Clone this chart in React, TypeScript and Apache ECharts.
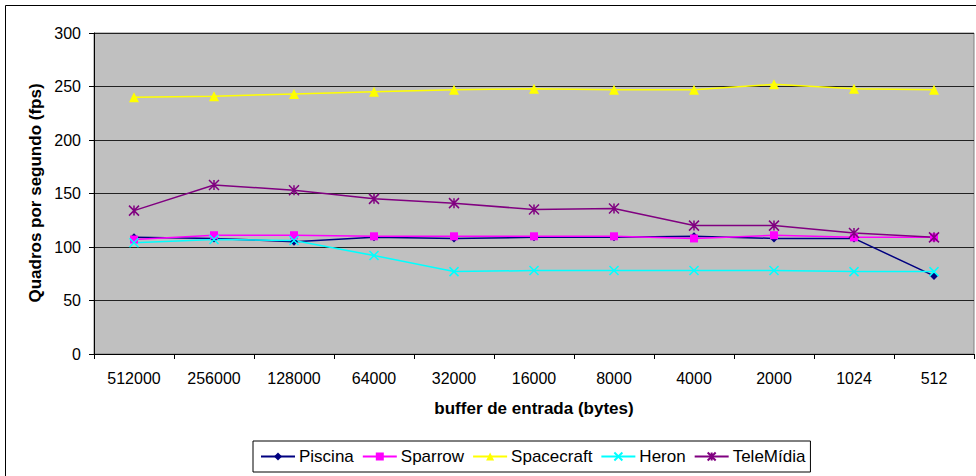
import React, { useEffect, useRef } from "react";
import * as echarts from "echarts";

const categories = ["512000", "256000", "128000", "64000", "32000", "16000", "8000", "4000", "2000", "1024", "512"];
const piscina = [109, 108, 105, 109, 108, 109, 109, 110, 108, 108, 73];
const sparrow = [107, 111, 111, 110, 110, 110, 110, 108, 111, 109, 109];
const spacecraft = [240, 241, 243, 245, 247, 248, 247, 247, 252, 248, 247];
const heron = [104, 107, 106, 92, 77, 78, 78, 78, 78, 77, 77];
const telemidia = [134, 158, 153, 145, 141, 135, 136, 120, 120, 113, 109];
const yTicks = { min: 0, max: 300, interval: 50 };

const FONT = "'Liberation Sans', Arial, sans-serif";

export default function App() {
  const ref = useRef<HTMLDivElement>(null);
  useEffect(() => {
    document.body.style.margin = "0";
    const chart = echarts.init(ref.current!, null, { renderer: "svg" });
    const mk = (name: string, data: number[], color: string, symbol: string, size: number, stroke = false) => ({
      name,
      type: "line",
      data,
      symbol,
      symbolSize: size,
      showAllSymbol: true,
      lineStyle: { color, width: 1.5 },
      itemStyle: stroke
        ? { color, borderColor: color, borderWidth: 1.5 }
        : { color, borderWidth: 0 },
      emphasis: { disabled: true },
      z: 3,
    });
    chart.setOption({
      animation: false,
      textStyle: { fontFamily: FONT },
      grid: {
        left: 94,
        top: 33,
        width: 880,
        height: 321,
        show: true,
        backgroundColor: "#C0C0C0",
        borderColor: "#808080",
        borderWidth: 1,
      },
      xAxis: {
        type: "category",
        data: categories,
        boundaryGap: true,
        axisLine: { lineStyle: { color: "#000", width: 1 } },
        axisTick: { show: true, interval: 0, length: 5, lineStyle: { color: "#000" } },
        axisLabel: { interval: 0, margin: 16, color: "#000", fontSize: 16, fontFamily: FONT },
        splitLine: { show: false },
      },
      yAxis: {
        type: "value",
        min: yTicks.min,
        max: yTicks.max,
        interval: yTicks.interval,
        axisLine: { show: true, lineStyle: { color: "#000", width: 1 } },
        axisTick: { show: true, length: 5, lineStyle: { color: "#000" } },
        axisLabel: { margin: 13, color: "#000", fontSize: 16, fontFamily: FONT },
        splitLine: { show: true, lineStyle: { color: "#222", width: 1 } },
      },
      legend: {
        left: 253,
        top: 441,
        orient: "horizontal",
        padding: [7, 5, 7, 7],
        itemGap: 8,
        itemWidth: 34,
        itemHeight: 10,
        borderColor: "#000",
        borderWidth: 1,
        backgroundColor: "#fff",
        textStyle: { color: "#000", fontSize: 17, fontFamily: FONT, padding: [0, 0, 0, -1] },
        data: ["Piscina", "Sparrow", "Spacecraft", "Heron", "TeleMídia"],
      },
      graphic: [
        {
          type: "rect",
          shape: { x: 5.5, y: 5.5, width: 1000, height: 500 },
          style: { fill: "none", stroke: "#000", lineWidth: 1 },
          silent: true,
          z: -10,
        },
        {
          type: "text",
          x: 35,
          y: 193,
          rotation: Math.PI / 2,
          style: {
            text: "Quadros por segundo (fps)",
            font: `bold 17px ${FONT}`,
            fill: "#000",
            align: "center",
            verticalAlign: "middle",
          },
        },
        {
          type: "text",
          x: 534,
          y: 408,
          style: {
            text: "buffer de entrada (bytes)",
            font: `bold 17px ${FONT}`,
            fill: "#000",
            align: "center",
            verticalAlign: "middle",
          },
        },
      ],
      series: [
        mk("Piscina", piscina, "#000080", "diamond", 8),
        mk("Sparrow", sparrow, "#FF00FF", "rect", 8),
        mk("Spacecraft", spacecraft, "#FFFF00", "triangle", 10),
        mk("Heron", heron, "#00FFFF", "path://M0,0L10,10M10,0L0,10", 9, true),
        mk("TeleMídia", telemidia, "#800080", "path://M0,0L10,10M10,0L0,10M5,0L5,10", 10, true),
      ],
    });
    return () => chart.dispose();
  }, []);
  return <div ref={ref} style={{ width: 976, height: 476 }} />;
}
